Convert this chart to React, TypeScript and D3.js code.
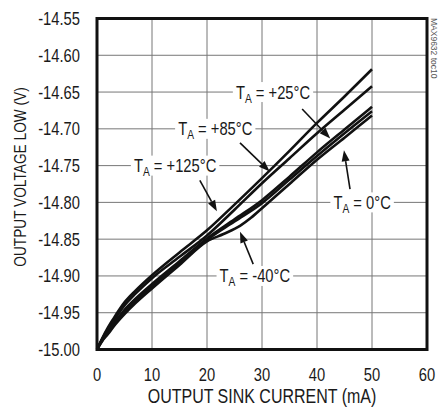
import * as d3 from "d3";
import React, { useLayoutEffect, useRef, useState } from "react";

// sink current (mA) and output voltage low (V) per temperature
const currents = [0, 1, 2, 3, 5, 7, 10, 15, 20, 25, 30, 35, 40, 45, 50];
const vol125 = [-15.0, -14.984, -14.97, -14.958, -14.936, -14.92, -14.899, -14.868, -14.838, -14.803, -14.767, -14.73, -14.692, -14.656, -14.619];
const vol85 = [-15.0, -14.985, -14.972, -14.961, -14.94, -14.924, -14.903, -14.874, -14.845, -14.81, -14.774, -14.74, -14.706, -14.674, -14.642];
const vol25 = [-15.0, -14.986, -14.975, -14.965, -14.946, -14.931, -14.911, -14.88, -14.849, -14.823, -14.797, -14.765, -14.732, -14.701, -14.67];
const vol0 = [-15.0, -14.987, -14.977, -14.967, -14.949, -14.934, -14.914, -14.883, -14.851, -14.826, -14.801, -14.769, -14.737, -14.706, -14.676];
const currentsM40 = [0, 1, 2, 3, 5, 7, 10, 15, 20, 23, 26, 28, 30, 35, 40, 45, 50];
const volM40 = [-15.0, -14.988, -14.979, -14.969, -14.952, -14.937, -14.917, -14.885, -14.853, -14.843, -14.832, -14.821, -14.808, -14.775, -14.742, -14.712, -14.682];

const xTicks = [0, 10, 20, 30, 40, 50, 60];
const yTicks = [-14.55, -14.6, -14.65, -14.7, -14.75, -14.8, -14.85, -14.9, -14.95, -15.0];

// labels: text, centre current, gridline voltage
const labels = [
	{ temp: "+25°C", x: 32, y: -14.65 },
	{ temp: "+85°C", x: 21.5, y: -14.7 },
	{ temp: "+125°C", x: 14.2, y: -14.75 },
	{ temp: "0°C", x: 48.2, y: -14.8 },
	{ temp: "-40°C", x: 28.7, y: -14.9 },
];
// arrows: from (x0,y0) to tip (x1,y1), in mA / V
const arrows = [
	{ x0: 37.3, y0: -14.673, x1: 42.4, y1: -14.713 },
	{ x0: 26.0, y0: -14.719, x1: 31.4, y1: -14.758 },
	{ x0: 18.7, y0: -14.77, x1: 21.8, y1: -14.812 },
	{ x0: 46.0, y0: -14.782, x1: 44.9, y1: -14.729 },
	{ x0: 28.4, y0: -14.884, x1: 26.0, y1: -14.84 },
];

// condensed look: Liberation Sans squeezed horizontally
const FONT = "'Liberation Sans', Arial, sans-serif";
const SQ = 0.82;

const NText = ({ x, y, size, anchor = "start", rotate = 0, children, tref }: any) => (
	<text
		ref={tref}
		transform={`translate(${x},${y}) rotate(${rotate}) scale(${SQ},1)`}
		textAnchor={anchor}
		fontSize={size}
		fontFamily={FONT}
		fill="#1a1a1a"
	>
		{children}
	</text>
);

const margin = { top: 18.5, right: 11, bottom: 58.5, left: 97 };
const W = 438;
const H = 408;

const Label = ({ cx, cy, temp }: { cx: number; cy: number; temp: string }) => {
	const ref = useRef<SVGTextElement>(null);
	const [w, setW] = useState(0);
	useLayoutEffect(() => {
		if (ref.current) setW(ref.current.getBBox().width * SQ);
	}, [temp]);
	return (
		<g>
			<rect x={cx - w / 2 - 3} y={cy - 10} width={w + 6} height={20} fill="#fff" />
			<NText tref={ref} x={cx} y={cy + 6.5} size={18} anchor="middle">
				T<tspan fontSize={12.5} dy={4}>A</tspan>
				<tspan dy={-4}>{" = " + temp}</tspan>
			</NText>
		</g>
	);
};

const App = () => {
	const width = W - margin.left - margin.right;
	const height = H - margin.top - margin.bottom;
	const x = d3.scaleLinear().domain([0, 60]).range([0, width]);
	const y = d3.scaleLinear().domain([-15.0, -14.55]).range([height, 0]);

	const line = d3
		.line<[number, number]>()
		.x((d) => x(d[0]))
		.y((d) => y(d[1]))
		.curve(d3.curveMonotoneX);

	const series = [
		currents.map((c, i) => [c, vol125[i]] as [number, number]),
		currents.map((c, i) => [c, vol85[i]] as [number, number]),
		currents.map((c, i) => [c, vol25[i]] as [number, number]),
		currents.map((c, i) => [c, vol0[i]] as [number, number]),
		currentsM40.map((c, i) => [c, volM40[i]] as [number, number]),
	];

	return (
		<svg width={W} height={H} style={{ position: "absolute", left: 0, top: 0, background: "#fff" }}>
			<g transform={`translate(${margin.left},${margin.top})`}>
				{xTicks.map((t) => (
					<line key={"gx" + t} x1={x(t)} x2={x(t)} y1={0} y2={height} stroke="#777" strokeWidth={1} />
				))}
				{yTicks.map((t) => (
					<line key={"gy" + t} x1={0} x2={width} y1={y(t)} y2={y(t)} stroke="#777" strokeWidth={1} />
				))}

				{labels.map((l) => (
					<Label key={l.temp} cx={x(l.x)} cy={y(l.y)} temp={l.temp} />
				))}

				{series.map((s, i) => (
					<path key={i} d={line(s) ?? ""} fill="none" stroke="#111" strokeWidth={2.6} strokeLinejoin="round" />
				))}

				{arrows.map((a, i) => {
					const px0 = x(a.x0), py0 = y(a.y0), px1 = x(a.x1), py1 = y(a.y1);
					const ang = Math.atan2(py1 - py0, px1 - px0);
					const len = 11, hw = 4;
					const bx = px1 - len * Math.cos(ang), by = py1 - len * Math.sin(ang);
					const pts = [
						[px1, py1],
						[bx + hw * Math.sin(ang), by - hw * Math.cos(ang)],
						[bx - hw * Math.sin(ang), by + hw * Math.cos(ang)],
					];
					return (
						<g key={"a" + i}>
							<line x1={px0} y1={py0} x2={bx} y2={by} stroke="#111" strokeWidth={1.6} />
							<polygon points={pts.map((p) => p.join(",")).join(" ")} fill="#111" />
						</g>
					);
				})}

				<rect x={0} y={0} width={width} height={height} fill="none" stroke="#111" strokeWidth={3} />

				{xTicks.map((t) => (
					<NText key={"tx" + t} x={x(t)} y={height + 31} size={18} anchor="middle">
						{t}
					</NText>
				))}
				{yTicks.map((t) => (
					<NText key={"ty" + t} x={-17} y={y(t) + 6.5} size={18} anchor="end">
						{t.toFixed(2)}
					</NText>
				))}

				<NText x={width / 2} y={height + 53} size={19.5} anchor="middle">
					OUTPUT SINK CURRENT (mA)
				</NText>
			</g>
			<NText x={26} y={177} size={16.7} anchor="middle" rotate={-90}>
				OUTPUT VOLTAGE LOW (V)
			</NText>
			<text transform={`translate(431,18) rotate(90)`} fontSize={8.5} fontFamily={FONT} fill="#555">
				MAX9632 toc10
			</text>
		</svg>
	);
};

export default App;
